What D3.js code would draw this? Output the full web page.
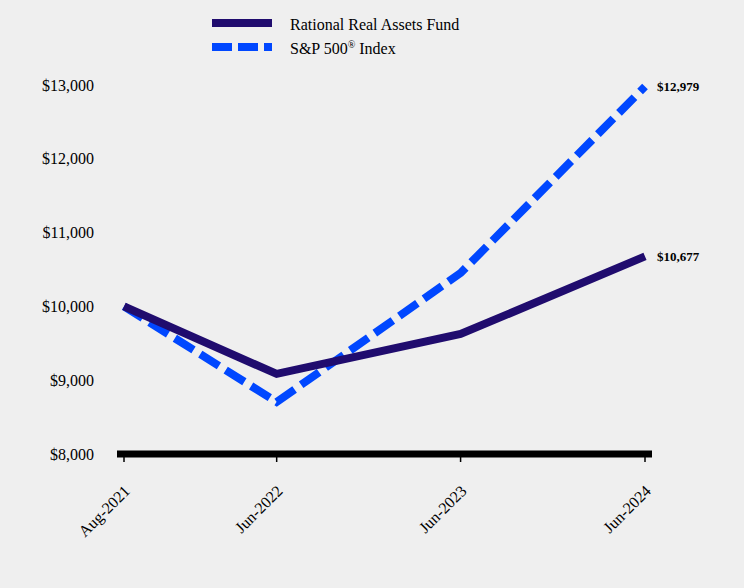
<!DOCTYPE html>
<html><head><meta charset="utf-8">
<script src="https://cdn.jsdelivr.net/npm/d3@7"></script>
<style>body{margin:0;background:#efefef;}svg{display:block;}</style>
</head><body>
<svg id="c" width="744" height="588"></svg>
<script>
const dates = ["2021-08-31","2022-06-30","2023-06-30","2024-06-30"];
const dateLabels = ["Aug-2021","Jun-2022","Jun-2023","Jun-2024"];
const fundValues = [10000, 9085, 9626, 10677];
const spValues = [10000, 8705, 10453, 12979];
const seriesNames = ["Rational Real Assets Fund", "S&P 500® Index"];
const yTicks = [8000, 9000, 10000, 11000, 12000, 13000];

const parse = d3.timeParse("%Y-%m-%d");
const dts = dates.map(parse);
const svg = d3.select("#c");
svg.append("rect").attr("width",744).attr("height",588).attr("fill","#efefef");
const font = "'Liberation Serif','Times New Roman',serif";

const x = d3.scaleTime().domain([dts[0], dts[3]]).range([124, 645]);
const y = d3.scaleLinear().domain([8000, 13000]).range([454, 85]);

// y labels
svg.append("g").selectAll("text").data(yTicks).join("text")
  .attr("x", 94).attr("y", d => y(d)).attr("dy","0.35em")
  .attr("text-anchor","end").attr("font-family",font).attr("font-size",16).attr("fill","#000")
  .text(d => d3.format("$,")(d));

// x axis line
svg.append("line").attr("x1",117).attr("x2",652).attr("y1",454).attr("y2",454)
  .attr("stroke","#000").attr("stroke-width",7);
svg.append("g").selectAll("line").data(dts).join("line")
  .attr("x1",d=>x(d)).attr("x2",d=>x(d)).attr("y1",457).attr("y2",462)
  .attr("stroke","#000").attr("stroke-width",1.5);
svg.append("g").selectAll("text").data(dts).join("text")
  .attr("transform",d=>`translate(${x(d)+3},${488}) rotate(-45)`)
  .attr("text-anchor","end").attr("dy","0.35em").attr("font-family",font).attr("font-size",16).attr("fill","#000")
  .text((d,i)=>dateLabels[i]);

const line = d3.line().x((d,i)=>x(dts[i])).y(d=>y(d));
svg.append("path").datum(spValues).attr("d",line).attr("fill","none")
  .attr("stroke","#0047ff").attr("stroke-width",8).attr("stroke-dasharray","22,8");
svg.append("path").datum(fundValues).attr("d",line).attr("fill","none")
  .attr("stroke","#200c6e").attr("stroke-width",8);

// end labels
svg.append("text").attr("x",657).attr("y",y(spValues[3])).attr("dy","0.35em")
  .attr("font-family",font).attr("font-size",13).attr("font-weight","bold").text(d3.format("$,")(spValues[3]));
svg.append("text").attr("x",657).attr("y",y(fundValues[3])).attr("dy","0.35em")
  .attr("font-family",font).attr("font-size",13).attr("font-weight","bold").text(d3.format("$,")(fundValues[3]));

// legend
const lg = svg.append("g");
lg.append("line").attr("x1",212).attr("x2",272).attr("y1",23).attr("y2",23).attr("stroke","#200c6e").attr("stroke-width",8);
lg.append("line").attr("x1",212).attr("x2",272).attr("y1",47).attr("y2",47).attr("stroke","#0047ff").attr("stroke-width",8).attr("stroke-dasharray","20,6");
lg.append("text").attr("x",290).attr("y",29.5).attr("font-family",font).attr("font-size",16).text(seriesNames[0]);
const t2 = lg.append("text").attr("x",290).attr("y",53.5).attr("font-family",font).attr("font-size",16);
t2.append("tspan").text("S&P 500");
t2.append("tspan").attr("font-size",10).attr("dy","-6px").text("®");
t2.append("tspan").attr("dy","6px").text(" Index");
</script>
</body></html>
